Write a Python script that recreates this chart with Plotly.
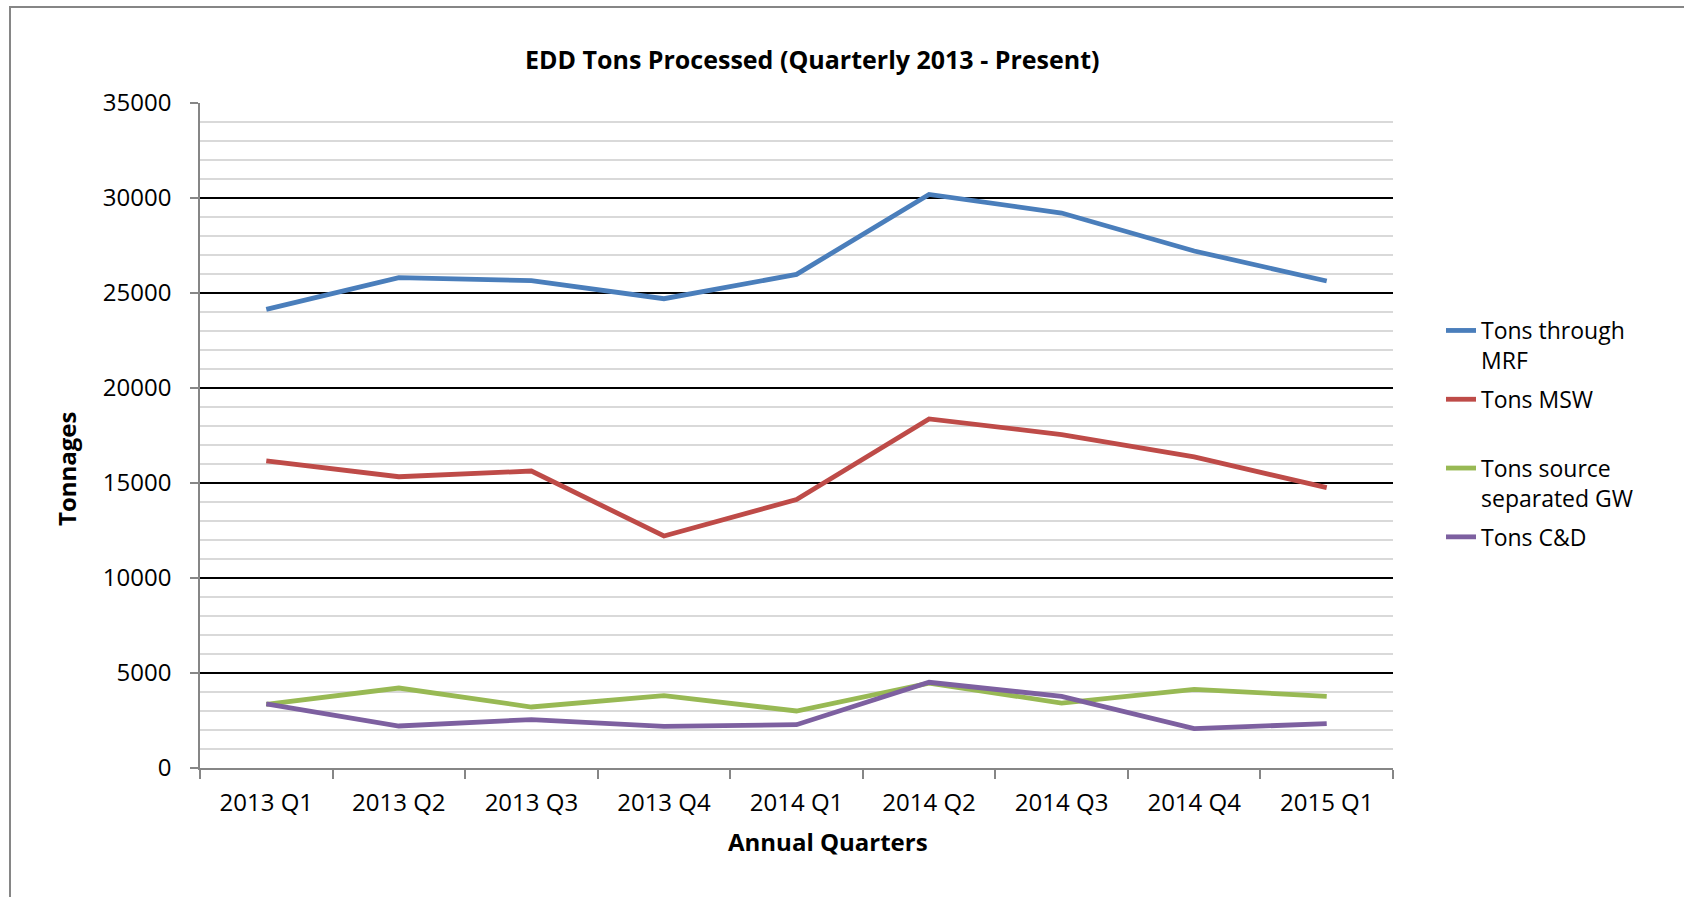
import plotly.graph_objects as go

quarters = ["2013 Q1", "2013 Q2", "2013 Q3", "2013 Q4", "2014 Q1",
            "2014 Q2", "2014 Q3", "2014 Q4", "2015 Q1"]
tons_mrf = [24140, 25810, 25650, 24700, 25980, 30190, 29210, 27210, 25630]
tons_msw = [16160, 15330, 15630, 12210, 14130, 18370, 17550, 16370, 14760]
tons_gw = [3350, 4210, 3210, 3810, 3000, 4470, 3420, 4140, 3770]
tons_cd = [3370, 2210, 2550, 2190, 2280, 4510, 3770, 2070, 2340]

series_names = ["Tons through<br>MRF", "Tons MSW<br> ", "Tons source<br>separated GW", "Tons C&D"]
series_values = [tons_mrf, tons_msw, tons_gw, tons_cd]
series_colors = ["#4A7EBB", "#BE4B48", "#98B954", "#7D60A0"]

FONT = "Open Sans"

fig = go.Figure()
for i, (name, vals, col) in enumerate(zip(series_names, series_values, series_colors)):
    fig.add_trace(go.Scatter(
        x=quarters, y=vals, name=name, mode="lines",
        line=dict(color=col, width=4.8),
        legendgroup=f"g{i}",
    ))

W, H = 1684, 897
L, R, T, B = 200, 291, 103, 129
pw, ph = W - L - R, H - T - B


def px_x(x):
    return (x - L) / pw


def px_y(y):
    return (H - B - y) / ph


fig.update_layout(
    width=W, height=H,
    margin=dict(l=L, r=R, t=T, b=B, autoexpand=False),
    paper_bgcolor="white", plot_bgcolor="white",
    font=dict(family=FONT, size=24, color="black"),
    showlegend=True,
    legend=dict(
        x=px_x(1441), y=px_y(309), xanchor="left", yanchor="top",
        valign="top", font=dict(family=FONT, size=23, color="black"),
        tracegroupgap=6, bgcolor="rgba(0,0,0,0)",
    ),
    xaxis=dict(
        type="category", range=[-0.5, 8.5],
        showline=True, linecolor="#868686", linewidth=1.5,
        ticks="outside", tickson="boundaries", ticklen=9, tickcolor="#868686", tickwidth=1.5,
        showgrid=False, zeroline=False,
        tickfont=dict(family=FONT, size=24, color="black"),
        ticklabelstandoff=12,
    ),
    yaxis=dict(
        range=[0, 35000], dtick=5000, tick0=0, tickformat="d",
        showline=True, linecolor="#868686", linewidth=1.5,
        ticks="outside", ticklen=8, tickcolor="#868686", tickwidth=1.5,
        showgrid=True, gridcolor="black", gridwidth=1.5,
        zeroline=False,
        minor=dict(dtick=1000, showgrid=True, gridcolor="#D9D9D9", gridwidth=1.5, ticks=""),
        tickfont=dict(family=FONT, size=24, color="black"),
        ticklabelstandoff=14,
    ),
    annotations=[
        dict(text="<b>EDD Tons Processed (Quarterly 2013 - Present)</b>",
             xref="paper", yref="paper", x=px_x(812), y=px_y(59),
             xanchor="center", yanchor="middle", showarrow=False,
             font=dict(family=FONT, size=25, color="black")),
        dict(text="<b>Annual Quarters</b>",
             xref="paper", yref="paper", x=px_x(828), y=px_y(841),
             xanchor="center", yanchor="middle", showarrow=False,
             font=dict(family=FONT, size=24, color="black")),
        dict(text="<b>Tonnages</b>", textangle=-90,
             xref="paper", yref="paper", x=px_x(66), y=px_y(469),
             xanchor="center", yanchor="middle", showarrow=False,
             font=dict(family=FONT, size=24, color="black")),
    ],
    shapes=[
        dict(type="rect", xref="paper", yref="paper",
             x0=px_x(10), y0=px_y(920), x1=px_x(1720), y1=px_y(7),
             line=dict(color="#868686", width=2), fillcolor="rgba(0,0,0,0)", layer="below"),
    ],
)

fig.write_html(
    "out.html",
    config={"displayModeBar": False},
    post_script="document.body.style.margin='0';document.body.style.overflow='hidden';",
)
